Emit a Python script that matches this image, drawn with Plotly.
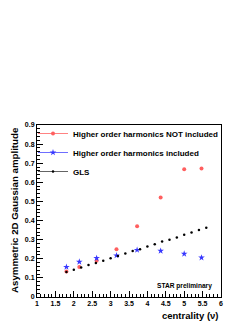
import plotly.graph_objects as go

# Data
centrality = [1.80, 2.15, 2.62, 3.16, 3.72, 4.36, 5.00, 5.47]
amp_not_included = [0.133, 0.157, 0.190, 0.250, 0.370, 0.520, 0.668, 0.672]
amp_included = [0.157, 0.184, 0.203, 0.217, 0.246, 0.241, 0.226, 0.206]
gls_x = [1.8, 2.0, 2.2, 2.4, 2.6, 2.8, 3.0, 3.2, 3.4, 3.6, 3.8, 4.0, 4.2, 4.4,
         4.6, 4.8, 5.0, 5.2, 5.4, 5.6]
gls_y = [0.131, 0.142, 0.154, 0.168, 0.178, 0.190, 0.203, 0.214, 0.227, 0.241,
         0.250, 0.264, 0.276, 0.290, 0.299, 0.311, 0.326, 0.338, 0.350, 0.362]

names = ["Higher order harmonics NOT included",
         "Higher order harmonics included",
         "GLS"]

RED = "rgb(255,95,95)"
BLUE = "rgb(55,55,255)"
BLACK = "rgb(0,0,0)"
FONT = "Liberation Sans, Arial, Helvetica, sans-serif"

fig = go.Figure()

# data traces
fig.add_trace(go.Scatter(x=centrality, y=amp_not_included, mode="markers",
                         marker=dict(color=RED, size=4, symbol="circle"),
                         showlegend=False))
fig.add_trace(go.Scatter(x=centrality, y=amp_included, mode="markers",
                         marker=dict(color=BLUE, size=5, symbol="star"),
                         showlegend=False))
fig.add_trace(go.Scatter(x=gls_x, y=gls_y, mode="markers",
                         marker=dict(color=BLACK, size=2.5, symbol="circle"),
                         showlegend=False))

# legend entries
for nm, col, sym, sz, lc in [(names[0], RED, "circle", 4, "rgb(255,130,130)"),
                             (names[1], BLUE, "star", 5, "rgb(110,110,255)"),
                             (names[2], BLACK, "circle", 2.5, "rgb(100,100,100)")]:
    fig.add_trace(go.Scatter(x=[None], y=[None], mode="lines+markers", name=nm,
                             line=dict(color=lc, width=1),
                             marker=dict(color=col, size=sz, symbol=sym)))

# the page body has an 8px margin: figure sits at (8, 8)
OFF = 8
W, H = 249 - OFF, 323 - OFF
X0, X1, Y0, Y1 = 37, 221, 125, 297  # absolute frame edges in the window
L, R, T, B = X0 - OFF, 249 - X1, Y0 - OFF, 323 - Y1
PW, PH = X1 - X0, Y1 - Y0


def px(ax):
    return (ax - X0) / PW


def py(ay):
    return (Y1 - ay) / PH


fig.update_layout(
    width=W, height=H,
    margin=dict(l=L, r=R, t=T, b=B, pad=0),
    paper_bgcolor="white", plot_bgcolor="white",
    font=dict(family=FONT, size=8, color="black"),
    legend=dict(x=px(33), y=py(119),
                xanchor="left", yanchor="top",
                bgcolor="rgba(0,0,0,0)", borderwidth=0,
                font=dict(family=FONT, size=8, color="black", weight="bold"),
                itemwidth=30),
    xaxis=dict(range=[1, 6], dtick=0.5, tick0=1, showgrid=False, zeroline=False,
               showline=True, mirror=True, linecolor="black", linewidth=1,
               ticks="inside", ticklen=6, tickcolor="black",
               tickfont=dict(family=FONT, size=7, weight="bold"),
               minor=dict(dtick=0.1, ticks="inside", ticklen=3, tickcolor="black",
                          showgrid=False)),
    yaxis=dict(range=[0, 0.9], dtick=0.1, tick0=0, showgrid=False, zeroline=False,
               showline=True, mirror=True, linecolor="black", linewidth=1,
               ticks="inside", ticklen=6, tickcolor="black",
               tickfont=dict(family=FONT, size=7, weight="bold"),
               minor=dict(dtick=0.02, ticks="inside", ticklen=3, tickcolor="black",
                          showgrid=False)),
    annotations=[
        dict(text="Asymmetric 2D Gaussian amplitude", xref="paper", yref="paper",
             x=px(14), y=1, xanchor="center", yanchor="top",
             textangle=-90, showarrow=False,
             font=dict(family=FONT, size=9.7, weight="bold")),
        dict(text="centrality (\u03bd)", xref="paper", yref="paper",
             x=1, y=py(315), xanchor="right", yanchor="middle",
             showarrow=False, font=dict(family=FONT, size=9.5, weight="bold")),
        dict(text="STAR preliminary", xref="paper", yref="paper",
             x=px(214), y=py(286), xanchor="right", yanchor="middle",
             showarrow=False, font=dict(family=FONT, size=6.6, weight="bold")),
    ],
)

fig.write_html("out.html")
